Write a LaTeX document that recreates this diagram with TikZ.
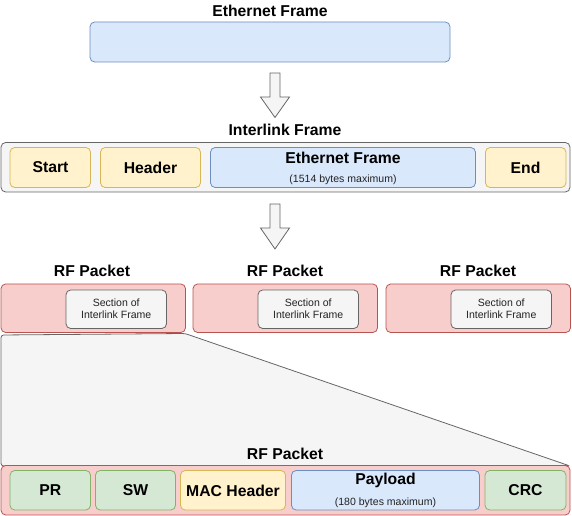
\documentclass[tikz,border=0pt]{standalone}
\usepackage{fontspec}
\setmainfont{Liberation Sans}
\begin{document}
\begin{tikzpicture}[x=0.75pt,y=-0.75pt,
  box/.style={draw, rounded corners=3.5pt, line width=0.6pt},
  blue/.style={box, fill=bluef, draw=blued},
  yel/.style={box, fill=yelf, draw=yeld},
  red/.style={box, fill=redf, draw=redd},
  grn/.style={box, fill=grnf, draw=grnd},
  gry/.style={box, fill=gryf, draw=gryd},
  ttl/.style={font=\fontsize{11.8pt}{13pt}\selectfont\bfseries, inner sep=0pt},
  sml/.style={font=\fontsize{7.9pt}{9.5pt}\selectfont, inner sep=0pt, align=center, text=txtg},
  bigarrow/.style={draw=gryd, fill=gryf, line width=0.6pt, line join=miter}
]
\definecolor{bluef}{HTML}{DAE8FC}\definecolor{blued}{HTML}{6C8EBF}
\definecolor{yelf}{HTML}{FFF2CC}\definecolor{yeld}{HTML}{D6B656}
\definecolor{redf}{HTML}{F8CECC}\definecolor{redd}{HTML}{B85450}
\definecolor{grnf}{HTML}{D5E8D4}\definecolor{grnd}{HTML}{82B366}
\definecolor{gryf}{HTML}{F5F5F5}\definecolor{gryd}{HTML}{666666}
\definecolor{txtg}{HTML}{222222}
\useasboundingbox (0,0) rectangle (572,516);

% Ethernet frame
\node[ttl] (t1) at (270,11) {Ethernet Frame};
\draw[blue] (90,22) rectangle (450,62);

% arrow 1
\draw[bigarrow] (270,73) -- (280,73) -- (280,97) -- (289.5,97) -- (275,117.5) -- (260.5,97) -- (270,97) -- cycle;

% Interlink frame
\node[ttl] (t2) at (285,130) {Interlink Frame};
\draw[gry] (1,142.5) rectangle (570,192);
\draw[yel] (10,147.5) rectangle (90.5,187.5);
\node[ttl] (st) at (50.5,167.5) {Start};
\draw[yel] (100.5,147.5) rectangle (200.5,187.5);
\node[ttl] (hd) at (150.5,167.5) {Header};
\draw[blue] (210.5,147.5) rectangle (475.5,187.5);
\node[ttl] (ef) at (343,157.5) {Ethernet Frame};
\node[sml] (ef2) at (343,180) {(1514 bytes maximum)};
\draw[yel] (485.5,147.5) rectangle (566,187.5);
\node[ttl] (en) at (525.5,167.5) {End};

% arrow 2
\draw[bigarrow] (270,204) -- (280,204) -- (280,228) -- (289.5,228) -- (275,249) -- (260.5,228) -- (270,228) -- cycle;

% trapezoid (zoom)
\draw[fill=gryf, draw=gryd, line width=0.6pt, rounded corners=2pt] (1,335) -- (185,333.5) -- (570,466) -- (1,466) -- cycle;

% RF packets
\foreach \x/\c/\n in {1/92/a,193/285/b,386/478/c}{
  \node[ttl] (rf\n) at (\c,271) {RF Packet};
  \draw[red] (\x,284) rectangle ({\x+184.5},332.5);
  \draw[gry] ({\x+65},290) rectangle ({\x+165.5},328.5);
  \node[sml,font=\fontsize{7.9pt}{9pt}\selectfont] (sec\n) at ({\x+115.25},308.5) {Section of\\Interlink Frame};
}

% bottom RF packet
\node[ttl] (t3) at (285,454) {RF Packet};
\draw[red] (1,465.5) rectangle (570,515);
\draw[grn] (10,470.5) rectangle (90.5,510);
\node[ttl] (pr) at (50.25,490.5) {PR};
\draw[grn] (95.5,470.5) rectangle (175.5,510);
\node[ttl] (sw) at (135.5,490.5) {SW};
\draw[yel] (180.5,470.5) rectangle (285.5,510);
\node[ttl] (mac) at (233,490.5) {MAC Header};
\draw[blue] (291.5,470.5) rectangle (479.5,510);
\node[ttl] (pl) at (385.5,480) {Payload};
\node[sml] (pl2) at (385.5,502.5) {(180 bytes maximum)};
\draw[grn] (485,470.5) rectangle (566,510);
\node[ttl] (crc) at (525.5,490.5) {CRC};
\end{tikzpicture}
\end{document}
